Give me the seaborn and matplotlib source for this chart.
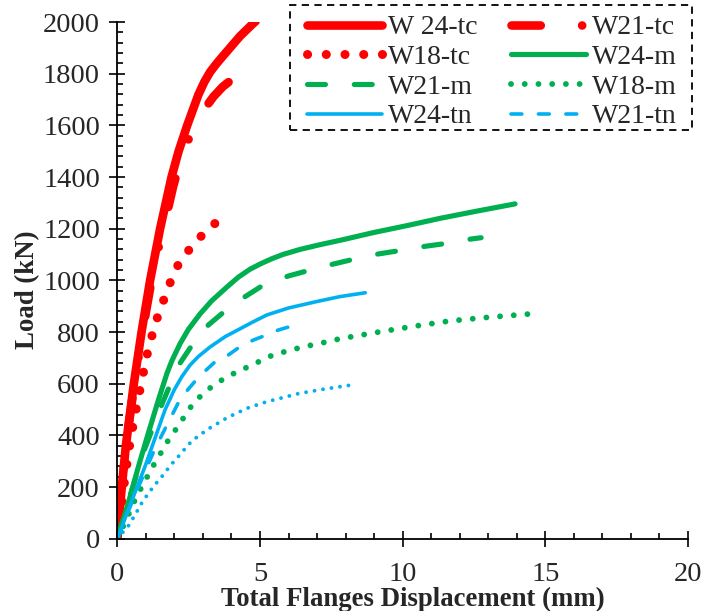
import numpy as np
import pandas as pd
import matplotlib
matplotlib.use("Agg")
import matplotlib.pyplot as plt
from matplotlib.patches import Rectangle
import seaborn as sns

# Load-displacement curves (displacement in mm, load in kN)
w24_tc_x = [0, 0.14, 0.3, 0.58, 0.85, 1.15, 1.5, 1.9, 2.15, 2.45, 2.84, 3.05, 3.25, 3.45, 3.7, 3.95,
            4.3, 4.71, 4.85]
w24_tc_y = [0, 180, 360, 600, 800, 1000, 1200, 1400, 1500, 1600, 1718, 1768, 1806, 1835, 1868, 1900,
            1945, 1989, 2003]

w21_tc_x = [0, 0.14, 0.3, 0.6, 0.88, 1.2, 1.55, 1.7, 1.95, 2.25, 2.66, 3.0, 3.37, 3.7, 4.07]
w21_tc_y = [0, 180, 360, 600, 800, 1000, 1180, 1240, 1360, 1480, 1589, 1655, 1711, 1750, 1782]

w18_tc_x = [0, 0.2, 0.4, 0.57, 0.73, 0.88, 1.06, 1.23, 1.42, 1.65, 1.88, 2.14, 2.54, 2.98, 3.46]
w18_tc_y = [0, 180, 340, 450, 540, 625, 720, 792, 862, 931, 999, 1062, 1122, 1176, 1224]

w24_m_x = [0, 0.39, 0.74, 1.05, 1.44, 1.74, 1.91, 2.2, 2.49, 2.9, 3.3, 3.85, 4.25, 4.65, 5.0, 5.4,
           5.8, 6.41, 7.1, 7.81, 8.98, 10.2, 11.31, 12.6, 13.94]
w24_m_y = [0, 140, 279, 395, 537, 640, 688, 755, 810, 870, 920, 975, 1013, 1043, 1063, 1083,
           1100, 1120, 1138, 1155, 1185, 1213, 1240, 1268, 1296]

w21_m_x = [0, 0.5, 0.97, 1.3, 1.6, 1.85, 2.2, 2.66, 3.19, 3.78, 4.48, 5.12, 6.0, 6.76, 7.57,
           8.33, 9.14, 10.0, 10.8, 11.6, 12.4, 12.75]
w21_m_y = [0, 185, 350, 445, 530, 595, 680, 756, 827, 882, 937, 982, 1017, 1040, 1063,
           1083, 1102, 1117, 1132, 1144, 1160, 1165]

w18_m_x = [0, 0.3, 0.62, 0.83, 1.05, 1.29, 1.53, 1.77, 2.05, 2.31, 2.58, 2.9, 3.27, 3.66, 4.09, 4.54,
           5.47, 6.32, 6.79, 7.26, 7.73, 8.22, 8.69, 9.21, 10.5, 11.66, 13.0, 14.46]
w18_m_y = [0, 70, 150, 195, 240, 288, 333, 378, 423, 466, 511, 550, 585, 614, 640, 663,
           712, 737, 749, 760, 772, 782, 791, 801, 824, 843, 857, 870]

w24_tn_x = [0, 0.5, 0.97, 1.67, 2.0, 2.26, 2.55, 2.84, 3.25, 3.78, 4.77, 5.24, 6.0, 6.99, 7.8, 8.69]
w24_tn_y = [0, 145, 279, 498, 577, 627, 672, 705, 742, 782, 840, 866, 893, 918, 937, 952]

w21_tn_x = [0, 0.6, 1.31, 1.8, 2.22, 2.86, 3.43, 3.89, 4.3, 4.77, 5.24, 5.65, 6.23]
w21_tn_y = [0, 165, 346, 453, 544, 627, 685, 711, 743, 769, 789, 808, 827]

w18_tn_x = [0, 0.39, 0.62, 0.85, 1.09, 1.35, 1.61, 1.85, 2.14, 2.4, 2.61, 2.9, 3.19, 3.48, 3.75,
            4.05, 4.34, 4.62, 5.23, 6.4, 7.3, 8.15]
w18_tn_y = [0, 50, 92, 137, 176, 213, 247, 282, 318, 352, 378, 402, 425, 444, 462,
            479, 494, 508, 530, 563, 580, 594]

labels = ["W 24-tc", "W21-tc", "W18-tc", "W24-m", "W21-m", "W18-m", "W24-tn", "W21-tn", None]
xs = [w24_tc_x, w21_tc_x, w18_tc_x, w24_m_x, w21_m_x, w18_m_x, w24_tn_x, w21_tn_x, w18_tn_x]
ys = [w24_tc_y, w21_tc_y, w18_tc_y, w24_m_y, w21_m_y, w18_m_y, w24_tn_y, w21_tn_y, w18_tn_y]

x_ticks = [0, 5, 10, 15, 20]
y_ticks = [0, 200, 400, 600, 800, 1000, 1200, 1400, 1600, 1800, 2000]

RED, GREEN, BLUE = "#FF0000", "#00B050", "#00B0F0"
styles = [
    dict(color=RED, lw=6.2, dashes=None, dotted=False),
    dict(color=RED, lw=6.2, dashes=(3.4, 4.8, 0.01, 4.8), dotted=False),
    dict(color=RED, lw=6.5, dashes=(0.01, 2.1), dotted=True),
    dict(color=GREEN, lw=3.7, dashes=None, dotted=False),
    dict(color=GREEN, lw=3.7, dashes=(3.5, 5.6), dotted=False),
    dict(color=GREEN, lw=4.2, dashes=(0.01, 2.35), dotted=True),
    dict(color=BLUE, lw=2.6, dashes=None, dotted=False),
    dict(color=BLUE, lw=2.6, dashes=(3.0, 4.6), dotted=False),
    dict(color=BLUE, lw=2.8, dashes=(0.01, 2.2), dotted=True),
]

sns.set_style("ticks")
plt.rcParams["font.family"] = ["Liberation Serif", "DejaVu Serif"]

W, H = 703, 611
DPI = 100
fig = plt.figure(figsize=(W / DPI, H / DPI), dpi=DPI)
ax_l, ax_r, ax_t, ax_b = 117.3, 688.0, 22.0, 538.7
ax = fig.add_axes([ax_l / W, 1 - ax_b / H, (ax_r - ax_l) / W, (ax_b - ax_t) / H])
ax.set_xlim(0, 20)
ax.set_ylim(0, 2000)

handles = {}
for lab, x, y, st in zip(labels, xs, ys, styles):
    df = pd.DataFrame({"disp": x, "load": y})
    sns.lineplot(data=df, x="disp", y="load", ax=ax, color=st["color"], linewidth=st["lw"],
                 estimator=None, sort=False, legend=False)
    line = ax.lines[-1]
    line.set_solid_capstyle("round")
    line.set_dash_capstyle("round")
    dashes = st["dashes"]
    if st["dotted"]:
        # space the dots evenly so one falls on each end of the curve
        pts = ax.transData.transform(np.column_stack([x, y]))
        length_pt = np.hypot(*np.diff(pts, axis=0).T).sum() * 72 / DPI
        period = (dashes[0] + dashes[1]) * st["lw"]
        n = max(1, round(length_pt / period))
        dashes = (dashes[0], 0.995 * length_pt / n / st["lw"] - dashes[0])
    if dashes is not None:
        line.set_dashes(dashes)
    if lab is not None:
        handles[lab] = line

ax.set_xlim(0, 20)
ax.set_ylim(0, 2000)
ax.set_xticks(x_ticks)
ax.set_yticks(y_ticks)
ax.xaxis.set_minor_locator(matplotlib.ticker.MultipleLocator(1))
ax.yaxis.set_minor_locator(matplotlib.ticker.MultipleLocator(40))
ax.tick_params(which="major", direction="inout", length=11, width=1.2, labelsize=20.5, color="black")
ax.tick_params(axis="x", which="major", pad=11)
ax.tick_params(axis="y", which="major", pad=7)
ax.tick_params(which="minor", direction="in", length=4.5, width=1.2, color="black")
for s in ["top", "right"]:
    ax.spines[s].set_visible(False)
for s in ["left", "bottom"]:
    ax.spines[s].set_linewidth(1.3)
    ax.spines[s].set_color("black")

ax.set_xlabel("Total Flanges Displacement (mm)", fontsize=19.3, fontweight="bold")
ax.set_ylabel("Load (kN)", fontsize=19.3, fontweight="bold")
aw, ah = ax_r - ax_l, ax_b - ax_t
ax.xaxis.set_label_coords((413 - ax_l) / aw, (ax_b - 599) / ah)
ax.xaxis.label.set_va("center")
ax.yaxis.set_label_coords((28 - ax_l) / aw, (ax_b - 290) / ah)
ax.yaxis.label.set_va("center")

# two-column legend read row by row, inside a dashed box
order = ["W 24-tc", "W18-tc", "W21-m", "W24-tn", "W21-tc", "W24-m", "W18-m", "W21-tn"]
leg = fig.legend([handles[k] for k in order], order, loc="upper left",
                 bbox_to_anchor=(307 / W, 1 - 15 / H), ncol=2, fontsize=20,
                 handlelength=2.7, handletextpad=0.22, columnspacing=1.2,
                 labelspacing=0.15, borderpad=0, frameon=False, borderaxespad=0)
box = Rectangle((290 / W, 1 - 130 / H), (692 - 290) / W, (130 - 5) / H, transform=fig.transFigure,
                fill=False, edgecolor="black", linewidth=1.3, linestyle=(0, (4, 3)))
fig.patches.append(box)

fig.savefig("out.png", dpi=DPI)
